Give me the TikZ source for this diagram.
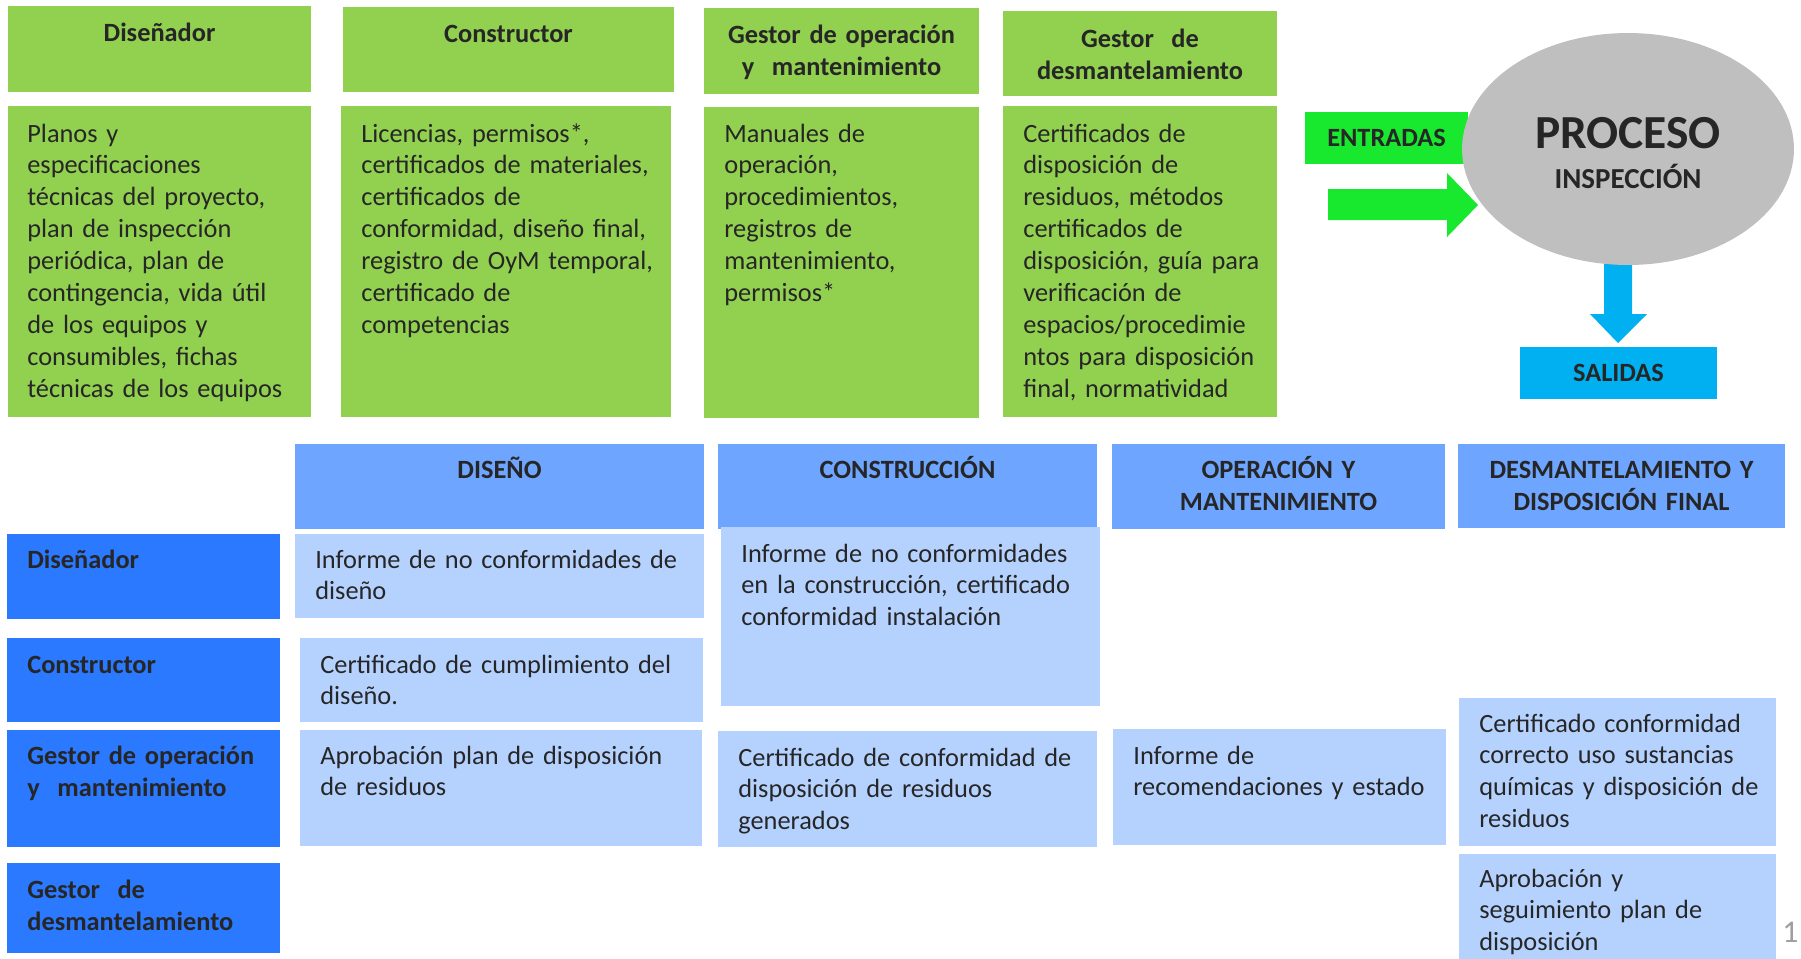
\documentclass[tikz,border=0pt]{standalone}
\usepackage{fontspec}
\setmainfont{Carlito}
\usetikzlibrary{shapes.geometric}
\definecolor{boxgreen}{HTML}{92D050}
\definecolor{ingreen}{HTML}{18E82E}
\definecolor{outcyan}{HTML}{00B0F0}
\definecolor{procgray}{HTML}{BFBFBF}
\definecolor{headblue}{HTML}{6DA5FF}
\definecolor{roleblue}{HTML}{2A79FF}
\definecolor{cellblue}{HTML}{B5D2FF}
\definecolor{txtgray}{HTML}{262626}
\begin{document}
\begin{tikzpicture}[
        x=0.02cm, y=-0.02cm,
        font=\fontsize{15}{18.2}\selectfont,
        text=txtgray
    ]
    \tikzset{
        plainbox/.style = {rectangle, anchor=north west, inner sep=0pt, outer sep=0pt},
        greenbox/.style = {plainbox, fill=boxgreen},
        headbox/.style = {plainbox, fill=headblue},
        rolebox/.style = {plainbox, fill=roleblue},
        cellbox/.style = {plainbox, fill=cellblue},
        hdtext/.style = {anchor=base, align=center, inner sep=0pt, text width=6cm, font=\fontsize{15}{18.6}\selectfont\bfseries},
        rolename/.style = {anchor=base west, align=left, inner sep=0pt, text width=5cm, font=\fontsize{15}{18.4}\selectfont\bfseries},
        celltext/.style = {anchor=base west, align=left, inner sep=0pt, text width=9cm, font=\fontsize{15}{18.2}\selectfont},
        tagbox/.style = {plainbox, font=\fontsize{15}{18}\selectfont\bfseries},
    }
    \useasboundingbox (0,0) rectangle (1801,958);

    % entradas de cada actor
    \node[greenbox, minimum width=6.06cm, minimum height=1.72cm] (dis) at (8,6) {};
    \node[greenbox, minimum width=6.62cm, minimum height=1.70cm] (con) at (343,7) {};
    \node[greenbox, minimum width=5.50cm, minimum height=1.72cm] (oym) at (704,8) {};
    \node[greenbox, minimum width=5.48cm, minimum height=1.70cm] (des) at (1003,11) {};
    \node[hdtext] (dis-t) at (159.5,41) {Diseñador};
    \node[hdtext] (con-t) at (508.5,42) {Constructor};
    \node[hdtext] (oym-t) at (841.5,43) {Gestor de operación\\y\ \ mantenimiento};
    \node[hdtext] (des-t) at (1140,47) {Gestor\ \ de\\desmantelamiento};

    \node[greenbox, minimum width=6.06cm, minimum height=6.22cm] (disin) at (8,106) {};
    \node[greenbox, minimum width=6.60cm, minimum height=6.22cm] (conin) at (341,106) {};
    \node[greenbox, minimum width=5.50cm, minimum height=6.22cm] (oymin) at (704,107) {};
    \node[greenbox, minimum width=5.48cm, minimum height=6.22cm] (desin) at (1003,106) {};
    \node[celltext] (disin-t) at (27,142) {Planos y\\especificaciones\\técnicas del proyecto,\\plan de inspección\\periódica, plan de\\contingencia, vida útil\\de los equipos y\\consumibles, fichas\\técnicas de los equipos};
    \node[celltext] (conin-t) at (361,142) {Licencias, permisos*,\\certificados de materiales,\\certificados de\\conformidad, diseño final,\\registro de OyM temporal,\\certificado de\\competencias};
    \node[celltext] (oymin-t) at (724,142) {Manuales de\\operación,\\procedimientos,\\registros de\\mantenimiento,\\permisos*};
    \node[celltext] (desin-t) at (1023,142) {Certificados de\\disposición de\\residuos, métodos\\certificados de\\disposición, guía para\\verificación de\\espacios/procedimie\\ntos para disposición\\final, normatividad};

    % proceso
    \node[tagbox, fill=ingreen, minimum width=3.26cm, minimum height=1.04cm] (ent) at (1305,112) {ENTRADAS};
    \fill[ingreen] (1328,189) -- (1447,189) -- (1447,173) -- (1478,205) -- (1447,237) -- (1447,220) -- (1328,220) -- cycle;
    \fill[outcyan] (1604,250) -- (1632,250) -- (1632,314) -- (1647,314) -- (1618,343) -- (1590,314) -- (1604,314) -- cycle;
    \node[ellipse, fill=procgray, minimum width=6.64cm, minimum height=4.64cm, inner sep=0pt] (proc) at (1628,149) {};
    \node[anchor=base, inner sep=0pt, font=\fontsize{27}{30}\selectfont\bfseries] (proc-t) at (1628,148) {PROCESO};
    \node[anchor=base, inner sep=0pt, font=\fontsize{16.5}{20}\selectfont\bfseries] (proc-s) at (1628,188) {INSPECCIÓN};
    \node[tagbox, fill=outcyan, minimum width=3.94cm, minimum height=1.04cm] (sal) at (1520,347) {SALIDAS};

    % fases
    \node[headbox, minimum width=8.18cm, minimum height=1.70cm] (fdis) at (295,444) {};
    \node[headbox, minimum width=7.58cm, minimum height=1.70cm] (fcon) at (718,444) {};
    \node[headbox, minimum width=6.66cm, minimum height=1.70cm] (foym) at (1112,444) {};
    \node[headbox, minimum width=6.54cm, minimum height=1.68cm] (fdes) at (1458,444) {};
    \node[hdtext] (fdis-t) at (499.5,478) {DISEÑO};
    \node[hdtext] (fcon-t) at (907.5,478) {CONSTRUCCIÓN};
    \node[hdtext] (foym-t) at (1278.5,478) {OPERACIÓN Y\\MANTENIMIENTO};
    \node[hdtext] (fdes-t) at (1621.5,478) {DESMANTELAMIENTO Y\\DISPOSICIÓN FINAL};

    % actores
    \node[rolebox, minimum width=5.46cm, minimum height=1.70cm] (rdis) at (7,534) {};
    \node[rolebox, minimum width=5.46cm, minimum height=1.68cm] (rcon) at (7,638) {};
    \node[rolebox, minimum width=5.46cm, minimum height=2.34cm] (roym) at (7,730) {};
    \node[rolebox, minimum width=5.46cm, minimum height=1.80cm] (rdes) at (7,863) {};
    \node[rolename] (rdis-t) at (27,568) {Diseñador};
    \node[rolename] (rcon-t) at (27,673) {Constructor};
    \node[rolename] (roym-t) at (27,764) {Gestor de operación\\y\ \ mantenimiento};
    \node[rolename] (rdes-t) at (27,898) {Gestor\ \ de\\desmantelamiento};

    % salidas por fase
    \node[cellbox, minimum width=8.18cm, minimum height=1.68cm] (dis-dis) at (295,534) {};
    \node[cellbox, minimum width=8.06cm, minimum height=1.68cm] (con-dis) at (300,638) {};
    \node[cellbox, minimum width=8.04cm, minimum height=2.32cm] (oym-dis) at (300,730) {};
    \node[cellbox, minimum width=7.58cm, minimum height=3.58cm] (dis-con) at (721,527) {};
    \node[cellbox, minimum width=7.58cm, minimum height=2.32cm] (oym-con) at (718,731) {};
    \node[cellbox, minimum width=6.66cm, minimum height=2.32cm] (oym-oym) at (1113,729) {};
    \node[cellbox, minimum width=6.34cm, minimum height=2.96cm] (oym-des) at (1459,698) {};
    \node[cellbox, minimum width=6.34cm, minimum height=2.32cm] (des-des) at (1459,854) {};
    \node[celltext] (dis-dis-t) at (315,568) {Informe de no conformidades de\\diseño};
    \node[celltext] (con-dis-t) at (320,673) {Certificado de cumplimiento del\\diseño.};
    \node[celltext] (oym-dis-t) at (320,764) {Aprobación plan de disposición\\de residuos};
    \node[celltext] (dis-con-t) at (741,562) {Informe de no conformidades\\en la construcción, certificado\\conformidad instalación};
    \node[celltext] (oym-con-t) at (738,766) {Certificado de conformidad de\\disposición de residuos\\generados};
    \node[celltext] (oym-oym-t) at (1133,764) {Informe de\\recomendaciones y estado};
    \node[celltext] (oym-des-t) at (1479,732) {Certificado conformidad\\correcto uso sustancias\\químicas y disposición de\\residuos};
    \node[celltext] (des-des-t) at (1479,887) {Aprobación y\\seguimiento plan de\\disposición};

    \node[anchor=north west, inner sep=0pt, text=gray!75, font=\fontsize{18}{22}\selectfont] (pag) at (1782,922) {1};
\end{tikzpicture}
\end{document}
